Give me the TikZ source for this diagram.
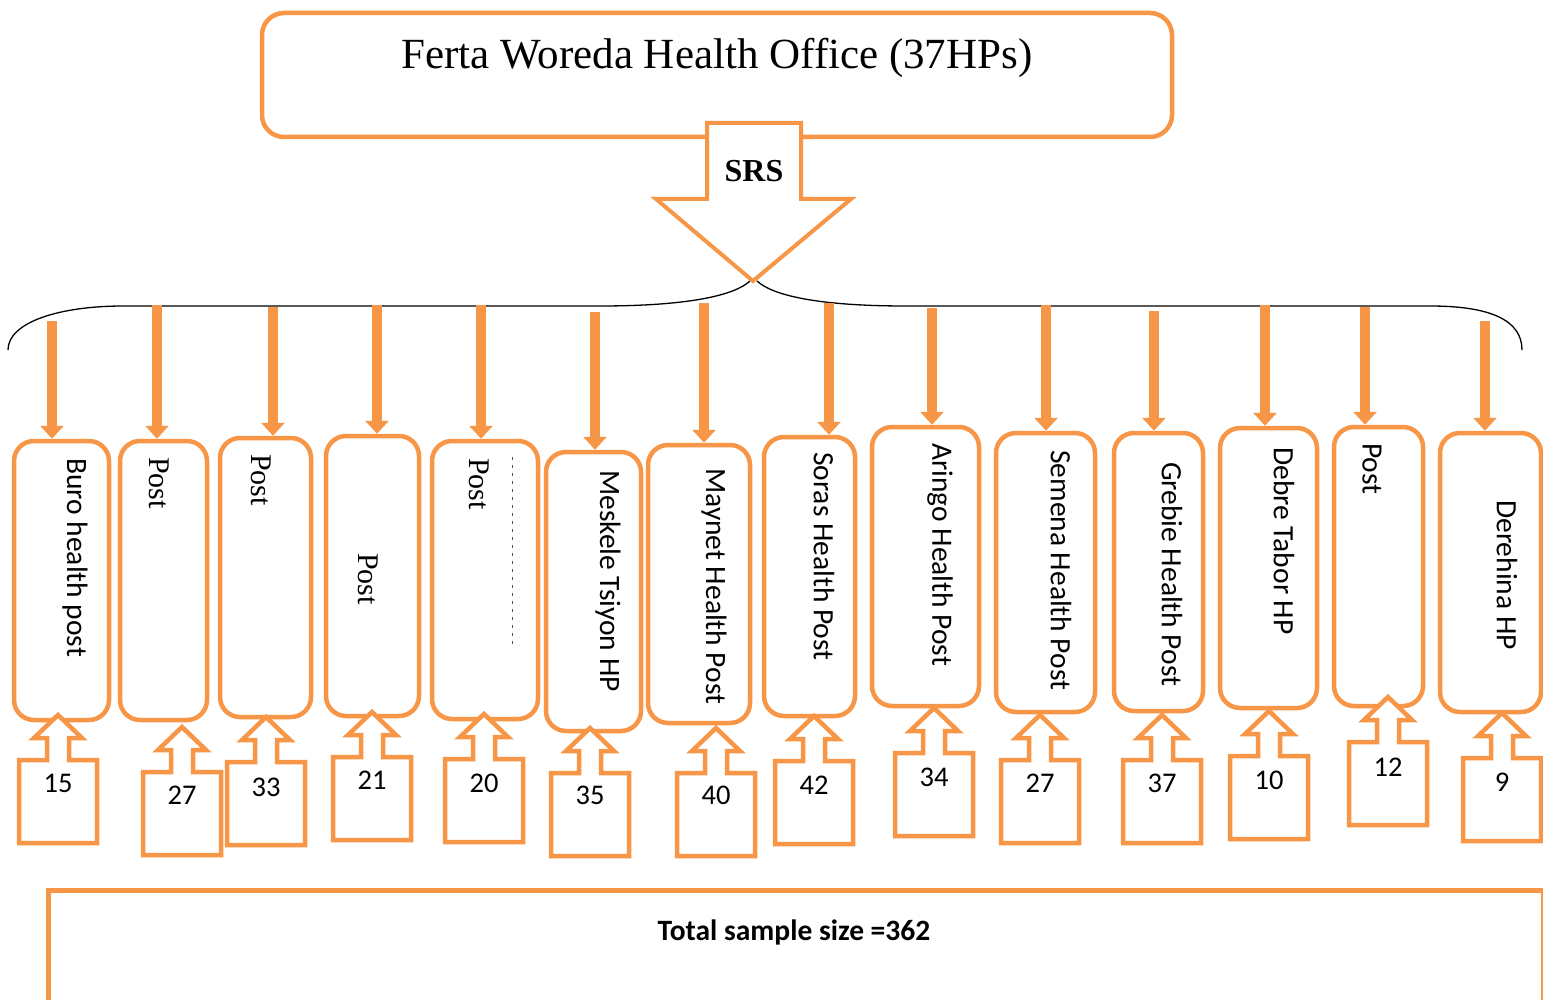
\documentclass[tikz,border=0pt]{standalone}
\usepackage{fontspec}
\setmainfont{Liberation Serif}
\newfontfamily\calfont{Carlito}
\usetikzlibrary{arrows.meta}
\definecolor{acc}{RGB}{247,150,70}
\begin{document}
\begin{tikzpicture}[x=1pt,y=-1pt,
  hpbox/.style={draw=acc, line width=4.5pt, rounded corners=20pt, fill=white, inner sep=0pt},
  vlab/.style={rotate=-90, anchor=west, inner sep=0pt, font=\calfont\fontsize{29.5}{34}\selectfont},
  vser/.style={rotate=-90, anchor=west, inner sep=0pt, font=\fontsize{30}{36}\selectfont},
  numlab/.style={anchor=base, inner sep=0pt, font=\calfont\fontsize{28.5}{34}\selectfont},
  drop/.style={draw=acc, line width=9.5pt, -{Triangle[width=23pt,length=13pt]}},
  callout/.style={draw=acc, line width=4.5pt, fill=white, line join=miter},
  brace/.style={draw=black, line width=1.3pt},
]
\useasboundingbox (0,0) rectangle (1543,1000);
\fill[white] (0,0) rectangle (1543,1000);

% top office box
\node[hpbox, rounded corners=22pt, minimum width=910pt, minimum height=124pt] (office) at (717,75) {};
\node[anchor=base, inner sep=0pt, font=\fontsize{43}{50}\selectfont] (title) at (717,69) {Ferta Woreda Health Office (37HPs)};

% brace
\draw[brace] (8,350) .. controls (8,322) and (60,306) .. (123,306) -- (600,306)
  .. controls (690,306) and (735,295) .. (750,281);
\draw[brace] (757,281) .. controls (772,295) and (816,306) .. (906,306) -- (1430,306)
  .. controls (1490,306) and (1522,320) .. (1522,350);

% SRS block arrow
\draw[acc, line width=4pt, fill=white, line join=miter]
  (707,123) -- (801,123) -- (801,199) -- (851,199) -- (753,281) -- (656,199) -- (707,199) -- cycle;
\node[anchor=base, inner sep=0pt, font=\bfseries\fontsize{32}{38}\selectfont] (srs) at (754,182) {SRS};

% health post boxes
\foreach \i/\xa/\xb/\ya/\yb in {
  1/14/109/441/720, 2/120/207/441/720, 3/220/311/438/717, 4/326/419/436/716,
  5/432/538/441/719, 6/546/641/452/731, 7/648/750/445/723, 8/764/855/437/716,
  9/872/979/427/706, 10/996/1095/433/712, 11/1114/1203/433/711, 12/1220/1317/428/708,
  13/1334/1423/427/706, 14/1440/1541/433/712}{
  \pgfmathsetmacro\bw{\xb-\xa}
  \pgfmathsetmacro\bh{\yb-\ya}
  \pgfmathsetmacro\bx{(\xa+\xb)/2}
  \pgfmathsetmacro\by{(\ya+\yb)/2}
  \node[hpbox, minimum width=\bw pt, minimum height=\bh pt] (h\i) at (\bx,\by) {};
}

% box labels
\node[vlab] (t1) at (75,458) {Buro health post};
\node[vser] (t2) at (159,457) {Post};
\node[vser] (t3) at (261,454) {Post};
\node[vser] (t4) at (368,553) {Post};
\node[vser] (t5) at (479,458) {Post};
\draw[black!70, line width=0.5pt, dash pattern=on 3pt off 5pt] (512,457) -- (512,645);
\node[vlab] (t6) at (608,470) {Meskele Tsiyon HP};
\node[vlab] (t7) at (714,468) {Maynet Health Post};
\node[vlab] (t8) at (824,452) {Soras Health Post};
\node[vlab] (t9) at (940,443) {Aringo Health Post};
\node[vlab] (t10) at (1061,450) {Semena Health Post};
\node[vlab] (t11) at (1172,462) {Grebie Health Post};
\node[vlab] (t12) at (1284,447) {Debre Tabor HP};
\node[vlab] (t13) at (1372,443) {Post};
\node[vlab] (t14) at (1507,500) {Derehina HP};

% drop arrows from brace to boxes
\foreach \i/\x/\y in {1/52/321, 2/157/305, 3/273/307, 4/377/305, 5/481/305,
  6/595/312, 7/704/303, 8/829/303, 9/932/308, 10/1046/305, 11/1154/311,
  12/1265/305, 13/1365/307, 14/1485/321}{
  \coordinate (c\i) at (\x,\y);
  \draw[drop] (c\i) -- (c\i |- h\i.north);
}

% up-arrow callouts with sample numbers
\foreach \i/\cx/\T/\ny/\n in {1/58/760/783/15, 2/182/772/795/27, 3/266/762/787/33,
  4/372/757/780/21, 5/484/759/783/20, 6/590/773/795/35, 7/716/773/795/40,
  8/814/761/785/42, 9/934/753/777/34, 10/1040/760/783/27, 11/1162/760/783/37,
  12/1269/756/780/10, 13/1388/742/767/12, 14/1502/758/782/9}{
  \draw[callout] (\cx-39,\T) -- (\cx-11,\T) -- (\cx-11,\T-22) -- (\cx-24,\T-22)
    -- (\cx,\T-45) -- (\cx+24,\T-22) -- (\cx+11,\T-22) -- (\cx+11,\T)
    -- (\cx+39,\T) -- (\cx+39,\T+83) -- (\cx-39,\T+83) -- cycle;
  \node[numlab] (n\i) at (\cx,\ny+9) {\n};
}

% total box
\node[draw=acc, line width=4.5pt, fill=white, anchor=north west, inner sep=0pt,
  minimum width=1495pt, minimum height=140pt] (total) at (46,888) {};
\node[anchor=base, inner sep=0pt, font=\calfont\bfseries\fontsize{29.5}{34}\selectfont] (totaltext) at (794,940) {Total sample size =362};
\end{tikzpicture}
\end{document}
